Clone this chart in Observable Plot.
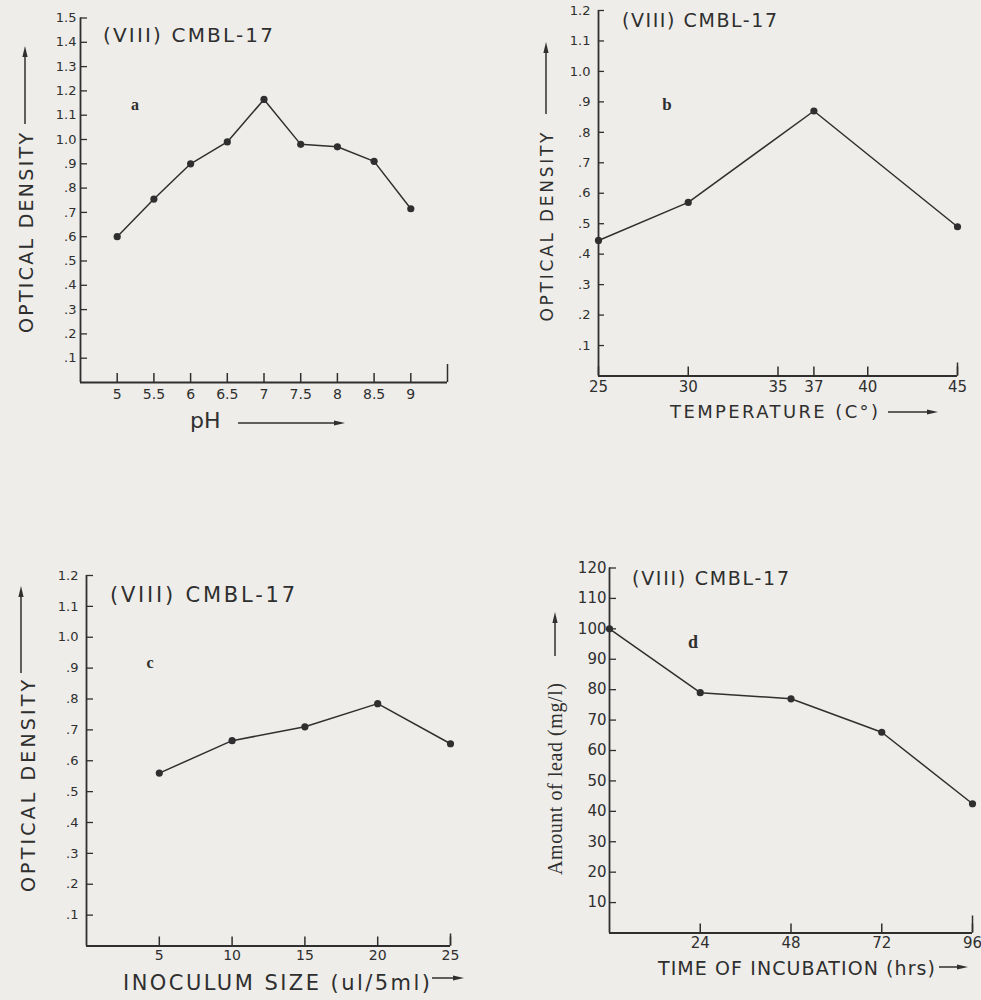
<!DOCTYPE html>
<html><head><meta charset="utf-8">
<script src="https://cdn.jsdelivr.net/npm/d3@7"></script>
<script src="https://cdn.jsdelivr.net/npm/@observablehq/plot@0.6"></script>
<style>
body{margin:0;background:#eeede9;}
#wrap{position:relative;width:981px;height:1000px;background:#eeede9;overflow:hidden;}
#wrap svg{position:absolute;}
</style></head><body><div id="wrap"></div>
<script>
// ---------- data ----------
const phValues = [5, 5.5, 6, 6.5, 7, 7.5, 8, 8.5, 9];
const phDensity = [0.60, 0.755, 0.90, 0.99, 1.165, 0.98, 0.97, 0.91, 0.715];

const tempValues = [25, 30, 37, 45];
const tempDensity = [0.445, 0.57, 0.87, 0.49];

const inoculumValues = [5, 10, 15, 20, 25];
const inoculumDensity = [0.56, 0.665, 0.71, 0.785, 0.655];

const timeValues = [0, 24, 48, 72, 96];
const leadAmount = [100, 79, 77, 66, 42.5];

// ---------- ticks ----------
const phTicks = [5, 5.5, 6, 6.5, 7, 7.5, 8, 8.5, 9];
const phTickLabels = ["5", "5.5", "6", "6.5", "7", "7.5", "8", "8.5", "9"];
const tempTicks = [25, 30, 35, 37, 40, 45];
const tempTickLabels = ["25", "30", "35", "37", "40", "45"];
const inoculumTicks = [5, 10, 15, 20, 25];
const inoculumTickLabels = ["5", "10", "15", "20", "25"];
const timeTicks = [24, 48, 72, 96];
const timeTickLabels = ["24", "48", "72", "96"];

const od15Ticks = [0.1, 0.2, 0.3, 0.4, 0.5, 0.6, 0.7, 0.8, 0.9, 1.0, 1.1, 1.2, 1.3, 1.4, 1.5];
const od15Labels = [".1", ".2", ".3", ".4", ".5", ".6", ".7", ".8", ".9", "1.0", "1.1", "1.2", "1.3", "1.4", "1.5"];
const od12Ticks = [0.1, 0.2, 0.3, 0.4, 0.5, 0.6, 0.7, 0.8, 0.9, 1.0, 1.1, 1.2];
const od12Labels = [".1", ".2", ".3", ".4", ".5", ".6", ".7", ".8", ".9", "1.0", "1.1", "1.2"];
const leadTicks = [10, 20, 30, 40, 50, 60, 70, 80, 90, 100, 110, 120];
const leadTickLabels = ["10", "20", "30", "40", "50", "60", "70", "80", "90", "100", "110", "120"];

const panelTitle = "(VIII) CMBL-17";
const panelLetters = ["a", "b", "c", "d"];
const xLabels = ["pH", "TEMPERATURE (C°)", "INOCULUM SIZE (ul/5ml)", "TIME OF INCUBATION (hrs)"];
const yLabels = ["OPTICAL DENSITY", "OPTICAL DENSITY", "OPTICAL DENSITY", "Amount of lead (mg/l)"];

const ink = "#2f2f2f";
const wrap = document.getElementById("wrap");

function makePanel(c) {
  const data = c.xs.map((x, i) => ({x, y: c.ys[i]}));
  const fw = c.width - c.ml - c.mr, fh = c.height - c.mt - c.mb;
  const svg = Plot.plot({
    width: c.width, height: c.height,
    marginLeft: c.ml, marginRight: c.mr, marginTop: c.mt, marginBottom: c.mb,
    x: {domain: c.xDomain, axis: null},
    y: {domain: c.yDomain, axis: null},
    style: {background: "transparent", fontFamily: "DejaVu Sans, sans-serif", color: ink, overflow: "visible"},
    marks: [
      Plot.ruleY([c.yDomain[0]], {stroke: ink, strokeWidth: 1.8}),
      Plot.ruleX([c.xDomain[0]], {stroke: ink, strokeWidth: 1.8}),
      Plot.tickX(c.xTicks, {x: d => d, insetTop: fh - c.xTickLen, stroke: ink, strokeWidth: 1.5}),
      Plot.tickX([c.xDomain[1]], {x: d => d, insetTop: fh - c.endTickLen, stroke: ink, strokeWidth: 1.5}),
      Plot.tickY(c.yTicks, {y: d => d, insetRight: fw - c.yTickLen, stroke: ink, strokeWidth: 1.3}),
      Plot.axisX(c.xTicks, {tickSize: 0, tickPadding: c.xPad, label: null, fill: ink,
        tickFormat: d => c.xTickLabels[c.xTicks.indexOf(d)]}),
      Plot.axisY(c.yTicks, {tickSize: 0, tickPadding: c.yPad, label: null, fill: ink,
        tickFormat: d => c.yTickLabels[c.yTicks.indexOf(d)]}),
      Plot.line(data, {x: "x", y: "y", stroke: ink, strokeWidth: 1.5}),
      Plot.dot(data, {x: "x", y: "y", r: 3.6, fill: ink, stroke: "none"})
    ]
  });
  svg.querySelectorAll('[aria-label="x-axis tick label"]').forEach(g => {
    g.setAttribute("font-size", c.xFont);
    g.querySelectorAll("text").forEach(t => t.setAttribute("font-size", c.xFont));
  });
  svg.querySelectorAll('[aria-label="y-axis tick label"]').forEach(g => {
    g.setAttribute("font-size", c.yFont);
    g.querySelectorAll("text").forEach(t => t.setAttribute("font-size", c.yFont));
  });
  svg.style.left = c.left + "px";
  svg.style.top = c.top + "px";
  wrap.appendChild(svg);
}

makePanel({left: 0, top: 0, width: 480, height: 440, ml: 80, mr: 33, mt: 17.5, mb: 58,
  xDomain: [4.5, 9.5], yDomain: [0, 1.5], xs: phValues, ys: phDensity,
  xTicks: phTicks, xTickLabels: phTickLabels, yTicks: od15Ticks, yTickLabels: od15Labels,
  xTickLen: 9, endTickLen: 18, yTickLen: 7, xPad: 7, yPad: 4, xFont: 14, yFont: 13});

makePanel({left: 530, top: 0, width: 451, height: 440, ml: 68, mr: 24, mt: 10, mb: 64.5,
  xDomain: [25, 45], yDomain: [0, 1.2], xs: tempValues, ys: tempDensity,
  xTicks: tempTicks, xTickLabels: tempTickLabels, yTicks: od12Ticks, yTickLabels: od12Labels,
  xTickLen: 9, endTickLen: 13, yTickLen: 6, xPad: 5, yPad: 8, xFont: 15, yFont: 13});

makePanel({left: 0, top: 560, width: 480, height: 440, ml: 86, mr: 30, mt: 15, mb: 54.5,
  xDomain: [0, 25], yDomain: [0, 1.2], xs: inoculumValues, ys: inoculumDensity,
  xTicks: inoculumTicks, xTickLabels: inoculumTickLabels, yTicks: od12Ticks, yTickLabels: od12Labels,
  xTickLen: 9, endTickLen: 12, yTickLen: 7, xPad: 4, yPad: 8, xFont: 14, yFont: 13});

makePanel({left: 530, top: 560, width: 451, height: 440, ml: 79, mr: 9, mt: 7.5, mb: 67.5,
  xDomain: [0, 96], yDomain: [0, 120], xs: timeValues, ys: leadAmount,
  xTicks: timeTicks, xTickLabels: timeTickLabels, yTicks: leadTicks, yTickLabels: leadTickLabels,
  xTickLen: 9, endTickLen: 17, yTickLen: 7, xPad: 4, yPad: 3, xFont: 15, yFont: 15});

// ---------- annotations (titles, panel letters, axis labels, arrows) ----------
const ov = d3.select(wrap).append("svg").attr("width", 981).attr("height", 1000)
  .style("left", "0px").style("top", "0px").style("pointer-events", "none");

const sans = "DejaVu Sans, sans-serif", serif = "Liberation Serif, serif";
function txt(s, x, y, size, opts = {}) {
  const t = ov.append("text").attr("x", x).attr("y", y).attr("font-size", size)
    .attr("font-family", opts.family || sans).attr("fill", ink).text(s);
  if (opts.len) t.attr("textLength", opts.len).attr("lengthAdjust", "spacing");
  if (opts.anchor) t.attr("text-anchor", opts.anchor);
  if (opts.weight) t.attr("font-weight", opts.weight);
  if (opts.rotate) t.attr("transform", `rotate(-90 ${x} ${y})`);
  return t;
}
function arrowUp(x, y1, y2) {
  ov.append("line").attr("x1", x).attr("x2", x).attr("y1", y1).attr("y2", y2 + 8).attr("stroke", ink).attr("stroke-width", 1.5);
  ov.append("path").attr("d", `M${x},${y2} L${x - 2.6},${y2 + 11} L${x + 2.6},${y2 + 11} Z`).attr("fill", ink);
}
function arrowRight(y, x1, x2) {
  ov.append("line").attr("x1", x1).attr("x2", x2 - 8).attr("y1", y).attr("y2", y).attr("stroke", ink).attr("stroke-width", 1.5);
  ov.append("path").attr("d", `M${x2},${y} L${x2 - 11},${y - 2.6} L${x2 - 11},${y + 2.6} Z`).attr("fill", ink);
}

// titles
txt(panelTitle, 103, 42, 20, {len: 170});
txt(panelTitle, 622, 27, 19, {len: 155});
txt(panelTitle, 110, 602, 21, {len: 185});
txt(panelTitle, 632, 585, 19, {len: 157});

// panel letters
txt(panelLetters[0], 135, 110, 16, {family: serif, weight: "bold", anchor: "middle"});
txt(panelLetters[1], 667, 110, 17, {family: serif, weight: "bold", anchor: "middle"});
txt(panelLetters[2], 150, 668, 16, {family: serif, weight: "bold", anchor: "middle"});
txt(panelLetters[3], 693, 648, 18, {family: serif, weight: "bold", anchor: "middle"});

// y labels
txt(yLabels[0], 33, 233, 19, {len: 200, anchor: "middle", rotate: true});
txt(yLabels[1], 553, 227, 17, {len: 189, anchor: "middle", rotate: true});
txt(yLabels[2], 35, 786, 19, {len: 212, anchor: "middle", rotate: true});
txt(yLabels[3], 562, 779, 20, {family: serif, len: 192, anchor: "middle", rotate: true});
arrowUp(25, 124, 46);
arrowUp(546, 114, 42);
arrowUp(21, 673, 586);
arrowUp(555, 656, 612);

// x labels
txt(xLabels[0], 190, 428, 22);
txt(xLabels[1], 670, 418, 18, {len: 208});
txt(xLabels[2], 123, 990, 21, {len: 307});
txt(xLabels[3], 658, 975, 19, {len: 277});
arrowRight(423, 238, 345);
arrowRight(412, 888, 938);
arrowRight(978, 432, 464);
arrowRight(967, 939, 968);
</script></body></html>
